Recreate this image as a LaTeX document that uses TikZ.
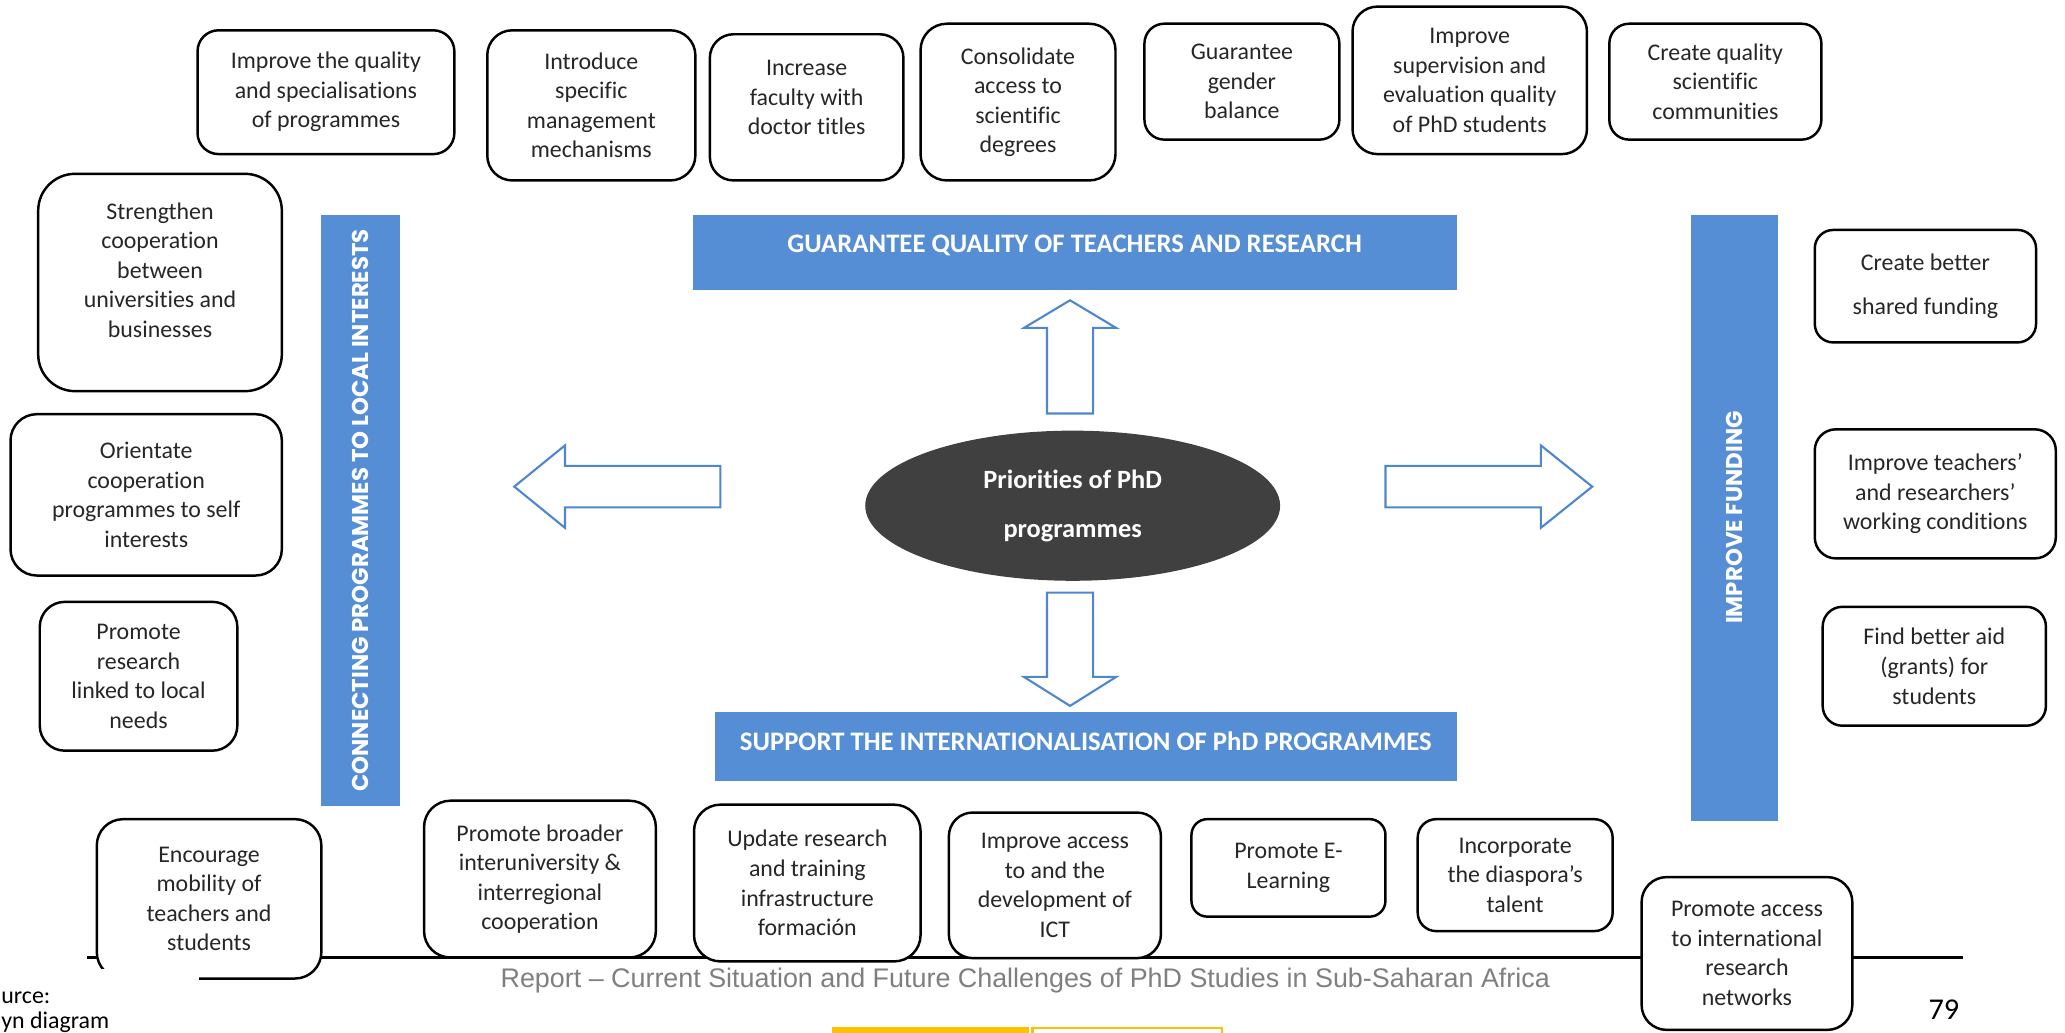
\documentclass[tikz,border=0pt]{standalone}
\usepackage{fontspec}
\setmainfont[Ligatures={TeX,NoCommon}]{Carlito}
\newfontfamily\barfont{Poppins}
\newfontfamily\footfont{Liberation Sans}
\usetikzlibrary{shapes.geometric}
\definecolor{barblue}{RGB}{85,142,213}
\definecolor{arrowblue}{RGB}{79,134,208}
\definecolor{ovalgray}{RGB}{64,64,64}
\definecolor{footgray}{RGB}{127,127,127}
\definecolor{logoyellow}{RGB}{255,192,0}
\newcommand{\pxu}{0.3747pt}

\begin{document}
\begin{tikzpicture}[x=0.01317cm, y=-0.01317cm,
    boxtext/.style={align=center, text=black!85, font=\fontsize{6.8}{8.4}\selectfont},
    box/.style n args={3}{boxtext, draw=black, line width=0.7pt, fill=white, inner sep=0pt,
        minimum width=#1*\pxu, minimum height=#2*\pxu, rounded corners=#3*\pxu},
    hbar/.style n args={2}{fill=barblue, inner sep=0pt, minimum width=#1*\pxu, minimum height=#2*\pxu,
        text=white, font=\fontsize{7.6}{9}\selectfont\bfseries},
    vbar/.style n args={2}{fill=barblue, rotate=90, inner sep=0pt, minimum width=#1*\pxu, minimum height=#2*\pxu,
        text=white, font=\barfont\bfseries\fontsize{6.5}{8}\selectfont},
    blockarrow/.style={draw=arrowblue, line width=0.6pt, fill=white}]
    \useasboundingbox (0,0) rectangle (1568,784);
    \clip (0,0) rectangle (1568,784);

    \coordinate (footL) at (66,727);
    \coordinate (footR) at (1490.5,727);
    \draw [line width=0.6pt] (footL) -- (footR);

    \node[box={195}{94}{16}] (qual) at (247.5,70) {Improve the quality\\and specialisations\\of programmes};
    \node[box={158}{114}{19}] (mgmt) at (449,80) {Introduce\\specific\\management\\mechanisms};
    \node[box={147}{111}{18}, label={[boxtext,yshift=2.8pt]center:Increase\\faculty with\\doctor titles}] (fac) at (612.5,81.5) {};
    \node[box={148}{119}{20}] (acc) at (773,77.5) {Consolidate\\access to\\scientific\\degrees};
    \node[box={148}{88}{15}] (gend) at (943,62) {Guarantee\\gender\\balance};
    \node[box={178}{112}{19}] (superv) at (1116,61) {Improve\\supervision and\\evaluation quality\\of PhD students};
    \node[box={161}{88}{15}] (comm) at (1302.5,62) {Create quality\\scientific\\communities};

    \node[box={185}{165}{28}, label={[boxtext,yshift=3.5pt]center:Strengthen\\cooperation\\between\\universities and\\businesses}] (coop) at (121.5,214.5) {};
    \node[box={206}{122.5}{20}] (orient) at (111,375.75) {Orientate\\cooperation\\programmes to self\\interests};
    \node[box={150}{113}{19}] (local) at (105.2,513.5) {Promote\\research\\linked to local\\needs};
    \node[box={170.5}{121}{20}] (mob) at (158.75,682.5) {Encourage\\mobility of\\teachers and\\students};

    \node[box={176}{119}{20}] (inter) at (410,667.5) {Promote broader\\interuniversity \&\\interregional\\cooperation};
    \node[box={172}{119}{20}] (infra) at (613,670.5) {Update research\\and training\\infrastructure\\formación};
    \node[box={161}{110.5}{18}] (ict) at (801,672.25) {Improve access\\to and the\\development of\\ICT};
    \node[box={147.3}{74}{12}] (elearn) at (978.35,659) {Promote E-\\Learning};
    \node[box={148}{85}{14}] (diasp) at (1150.5,664.5) {Incorporate\\the diaspora’s\\talent};
    \node[box={160}{116}{19}] (netw) at (1326.5,724) {Promote access\\to international\\research\\networks};

    \node[box={168}{85.4}{14}] (share) at (1462,217.3) {Create better\\[4pt]shared funding};
    \node[box={183}{98}{16}] (cond) at (1469.5,375) {Improve teachers’\\and researchers’\\working conditions};
    \node[box={169.5}{90.3}{15}] (grant) at (1468.75,505.9) {Find better aid\\(grants) for\\students};

    \node[hbar={580}{57}, text height=0pt, text depth=0pt] (qbar) at (816,191.5) {GUARANTEE QUALITY OF TEACHERS AND RESEARCH};
    \node[hbar={563}{52}, text height=1.9pt, text depth=0pt] (ibar) at (824.5,567) {SUPPORT THE INTERNATIONALISATION OF PhD PROGRAMMES};
    \node[vbar={449}{60}] (lbar) at (274,387.5) {CONNECTING PROGRAMMES TO LOCAL INTERESTS};
    \node[vbar={460}{66}] (rbar) at (1317,393) {IMPROVE FUNDING};

    \node[ellipse, fill=ovalgray, minimum width=315*\pxu, minimum height=114*\pxu, inner sep=0pt,
        text=white, align=center, font=\fontsize{7.5}{13.9}\selectfont\bfseries] (prio) at (814.5,384) {Priorities of PhD\\programmes};

    \draw [blockarrow] (795,314) -- (795,249) -- (777.5,249) -- (812.5,228) -- (847.5,249) -- (830,249) -- (830,314) -- cycle;
    \draw [blockarrow] (795,450) -- (830,450) -- (830,514) -- (847.5,514) -- (812.5,536) -- (777.5,514) -- (795,514) -- cycle;
    \draw [blockarrow] (547,353.7) -- (429,353.7) -- (429,338.2) -- (390.5,369.5) -- (429,400.8) -- (429,385.3) -- (547,385.3) -- cycle;
    \draw [blockarrow] (1052,353.7) -- (1170,353.7) -- (1170,338.2) -- (1209,369.5) -- (1170,400.8) -- (1170,385.3) -- (1052,385.3) -- cycle;

    \fill [white] (0,736) rectangle (151,784);
    \node[anchor=base, text=footgray, font=\footfont\fontsize{7.65}{9}\selectfont] (report) at (778.5,749.5) {Report – Current Situation and Future Challenges of PhD Studies in Sub-Saharan Africa};
    \node[anchor=base, font=\fontsize{8.6}{10}\selectfont] (page) at (1476,774) {79};
    \node[anchor=base west, inner sep=0pt, font=\fontsize{6.8}{8.4}\selectfont] (src) at (0.5,762.3) {urce:};
    \node[anchor=base west, inner sep=0pt, font=\fontsize{6.8}{8.4}\selectfont] (own) at (0.5,780.6) {yn diagram};
    \fill [logoyellow] (632,780) rectangle (781,790);
    \draw [logoyellow, line width=0.6pt] (784,780.7) rectangle (928,795);
\end{tikzpicture}
\end{document}
